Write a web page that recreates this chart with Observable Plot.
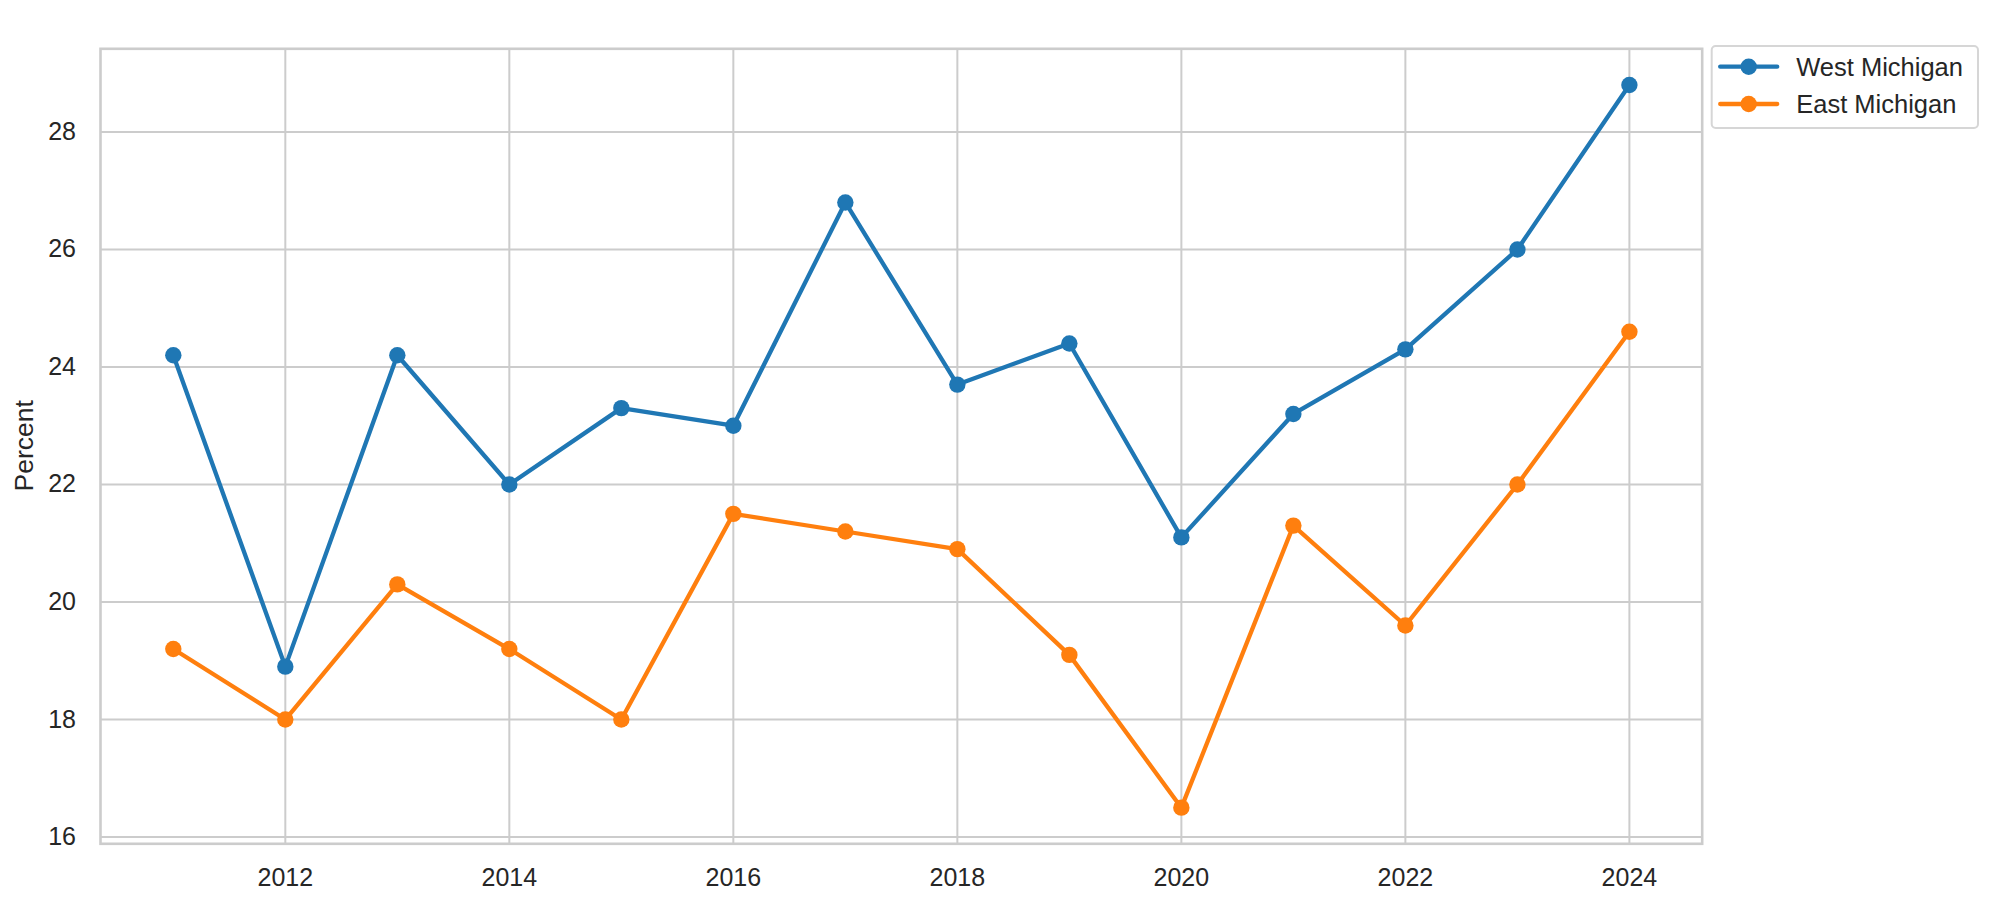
<!DOCTYPE html>
<html>
<head>
<meta charset="utf-8">
<script src="https://cdn.jsdelivr.net/npm/d3@7"></script>
<script src="https://cdn.jsdelivr.net/npm/@observablehq/plot@0.6"></script>
<style>
  html, body { margin: 0; padding: 0; background: #ffffff; }
  #chart { width: 2000px; height: 903px; overflow: hidden; }
</style>
</head>
<body>
<div id="chart"></div>
<script>
// ---- Data ----
const years = [2011, 2012, 2013, 2014, 2015, 2016, 2017, 2018, 2019, 2020, 2021, 2022, 2023, 2024];
const westMichigan = [24.2, 18.9, 24.2, 22.0, 23.3, 23.0, 26.8, 23.7, 24.4, 21.1, 23.2, 24.3, 26.0, 28.8];
const eastMichigan = [19.2, 18.0, 20.3, 19.2, 18.0, 21.5, 21.2, 20.9, 19.1, 16.5, 21.3, 19.6, 22.0, 24.6];
const seriesNames = ["West Michigan", "East Michigan"];
const seriesColors = ["#1f77b4", "#ff7f0e"];
const xTicks = [2012, 2014, 2016, 2018, 2020, 2022, 2024];
const yTicks = [16, 18, 20, 22, 24, 26, 28];
const yLabel = "Percent";

// ---- Build table ----
const rows = [];
[westMichigan, eastMichigan].forEach((vals, si) => {
  years.forEach((yr, i) => rows.push({ year: yr, value: vals[i], series: seriesNames[si] }));
});

// matplotlib-style 5% margins
const allVals = westMichigan.concat(eastMichigan);
const yMin = d3.min(allVals), yMax = d3.max(allVals);
const xMin = d3.min(years), xMax = d3.max(years);
const yPad = (yMax - yMin) * 0.05, xPad = (xMax - xMin) * 0.05;

const W = 2000, H = 903;
const mLeft = 100, mRight = 298.3, mTop = 48.3, mBottom = 59.7;
const FONT = "'Liberation Sans', Arial, 'DejaVu Sans', sans-serif";
const GRID = "#cccccc";
const TEXT = "#262626";

const marks = [
  Plot.ruleX(xTicks, { stroke: GRID, strokeWidth: 2 }),
  Plot.ruleY(yTicks, { stroke: GRID, strokeWidth: 2 }),
  Plot.frame({ stroke: GRID, strokeWidth: 2.6 }),
  Plot.axisX({ ticks: xTicks, tickSize: 0, tickPadding: 24, tickFormat: d => String(d), label: null, fill: TEXT }),
  Plot.axisY({ ticks: yTicks, tickSize: 0, tickPadding: 24.5, label: null, fill: TEXT })
];
seriesNames.forEach(name => {
  const data = rows.filter(r => r.series === name);
  marks.push(Plot.line(data, { x: "year", y: "value", stroke: "series", strokeWidth: 4.3, strokeLinejoin: "round", strokeLinecap: "round" }));
  marks.push(Plot.dot(data, { x: "year", y: "value", fill: "series", r: 8.2, stroke: "none" }));
});

const chart = Plot.plot({
  width: W,
  height: H,
  marginLeft: mLeft,
  marginRight: mRight,
  marginTop: mTop,
  marginBottom: mBottom,
  style: { fontFamily: FONT, fontSize: "25px", color: TEXT, background: "#ffffff", overflow: "visible" },
  x: { type: "linear", domain: [xMin - xPad, xMax + xPad] },
  y: { type: "linear", domain: [yMin - yPad, yMax + yPad] },
  color: { domain: seriesNames, range: seriesColors },
  marks
});
document.getElementById("chart").appendChild(chart);

// ---- Y label and legend (added into the same SVG) ----
const svg = d3.select(chart);
svg.append("text")
  .attr("transform", `translate(33,${(mTop + (H - mBottom)) / 2}) rotate(-90)`)
  .attr("text-anchor", "middle")
  .attr("font-family", FONT)
  .attr("font-size", 26.5)
  .attr("fill", TEXT)
  .text(yLabel);

const lg = svg.append("g").attr("transform", "translate(1711.7,46)");
lg.append("rect")
  .attr("x", 0).attr("y", 0).attr("width", 266.3).attr("height", 82)
  .attr("rx", 4).attr("ry", 4)
  .attr("fill", "#ffffff").attr("fill-opacity", 0.8)
  .attr("stroke", "#d6d6d6").attr("stroke-width", 2);
seriesNames.forEach((name, i) => {
  const cy = 20.7 + i * 37.3;
  lg.append("line").attr("x1", 8.5).attr("x2", 65.5).attr("y1", cy).attr("y2", cy)
    .attr("stroke", seriesColors[i]).attr("stroke-width", 4.3).attr("stroke-linecap", "round");
  lg.append("circle").attr("cx", 37).attr("cy", cy).attr("r", 8.2).attr("fill", seriesColors[i]);
  lg.append("text").attr("x", 84.5).attr("y", cy).attr("dy", "0.35em")
    .attr("text-anchor", "start")
    .attr("font-family", FONT).attr("font-size", 25.5).attr("fill", TEXT).text(name);
});
</script>
</body>
</html>
